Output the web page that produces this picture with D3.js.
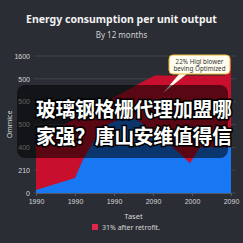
<!DOCTYPE html>
<html>
<head>
<meta charset="utf-8">
<script src="https://cdn.jsdelivr.net/npm/d3@7"></script>
<style>
  body { margin: 0; background: #2a2d34; }
  svg { display: block; font-family: "Noto Sans", sans-serif; }
</style>
</head>
<body>
<script>
var w = 243, h = 243;
var margin = {top: 56, right: 12, bottom: 50, left: 36};

// data
var xLabels = ["1990", "1990", "1990", "2090", "2000", "2090"];
var yLabels = ["0", "210", "400", "500", "500", "500", "1600"];
// x position in tick steps, value in tick steps
var redX   = [0, 2.65, 3.05, 4.85, 5];
var redY   = [2.3, 4.8, 5.15, 5.15, 6];
var blueX  = [0, 1, 1.2, 1.7, 2.4, 3.2, 3.95, 4.2, 5];
var blueY  = [0.13, 0.66, 1.45, 2.9, 3.4, 2.5, 1.3, 2.0, 2.0];
var legendText = "31% after retrofit.";
var calloutLines = ["22% Higl blower", "beving Optimized"];
var overlayLines = ["玻璃钢格栅代理加盟哪", "家强？唐山安维值得信"];

var svg = d3.select("body").append("svg")
  .attr("width", w)
  .attr("height", h);

var x = d3.scaleLinear().domain([0, 5]).range([margin.left, w - margin.right]);
var y = d3.scaleLinear().domain([0, 6]).range([h - margin.bottom, margin.top]);

svg.append("text")
  .attr("x", w / 2).attr("y", 23)
  .attr("text-anchor", "middle")
  .style("font-size", "10.5px").style("font-weight", "bold")
  .style("fill", "#f2f2f2")
  .text("Energy consumption per unit output");

svg.append("text")
  .attr("x", w / 2).attr("y", 38)
  .attr("text-anchor", "middle")
  .style("font-size", "8px")
  .style("fill", "#d0d0d0")
  .text("By 12 months");

// grid
svg.append("g").selectAll("line")
  .data(d3.range(0, 7))
  .enter().append("line")
  .attr("x1", margin.left - 2).attr("x2", w - 7)
  .attr("y1", function(d) { return y(d); })
  .attr("y2", function(d) { return y(d); })
  .style("stroke", "#454952").style("stroke-width", 0.8);

// areas
var redPts = redX.map(function(d, i) { return [d, redY[i]]; });
var bluePts = blueX.map(function(d, i) { return [d, blueY[i]]; });

var area = d3.area()
  .x(function(d) { return x(d[0]); })
  .y0(y(0))
  .y1(function(d) { return y(d[1]); });

svg.append("path").datum(redPts)
  .attr("d", area)
  .style("fill", "#c8102e");

svg.append("path").datum(bluePts)
  .attr("d", area)
  .style("fill", "#1877f2");

// axes
var yAxis = d3.axisLeft(y)
  .tickValues(d3.range(0, 7))
  .tickSize(0).tickPadding(5)
  .tickFormat(function(d) { return yLabels[d]; });

svg.append("g")
  .attr("transform", "translate(" + (margin.left - 1) + ",0)")
  .call(yAxis)
  .call(function(g) { g.select(".domain").remove(); })
  .selectAll("text")
  .style("fill", "#d8d8d8").style("font-size", "7px");

var xAxis = d3.axisBottom(x)
  .tickValues(d3.range(0, 6))
  .tickSize(3).tickPadding(3)
  .tickFormat(function(d) { return xLabels[d]; });

var gx = svg.append("g")
  .attr("transform", "translate(0," + y(0) + ")")
  .call(xAxis);
gx.select(".domain").style("stroke", "#555a63");
gx.selectAll("line").style("stroke", "#555a63");
gx.selectAll("text").style("fill", "#d8d8d8").style("font-size", "7px");

svg.append("text")
  .attr("x", x(2.5)).attr("y", 219)
  .attr("text-anchor", "middle")
  .style("font-size", "7.5px").style("fill", "#d8d8d8")
  .text("Taset");

svg.append("text")
  .attr("transform", "translate(12," + y(3) + ") rotate(-90)")
  .attr("text-anchor", "middle")
  .style("font-size", "7px").style("fill", "#d8d8d8")
  .text("Ommice");

// legend
var lg = svg.append("g").attr("transform", "translate(92,224)");
lg.append("rect").attr("width", 6).attr("height", 6).style("fill", "#e0284a");
lg.append("text").attr("x", 10).attr("y", 6)
  .style("font-size", "7px").style("fill", "#d8d8d8")
  .text(legendText);

// callout
var co = svg.append("g").attr("transform", "translate(169,55)");
co.append("path")
  .attr("d", "M11,18 L-6,38 L19,18 Z")
  .style("fill", "#fffdf0");
co.append("rect")
  .attr("width", 61).attr("height", 19).attr("rx", 4)
  .style("fill", "#fffdf0").style("stroke", "#e8b830").style("stroke-width", 1);
co.selectAll("text.c")
  .data(calloutLines)
  .enter().append("text")
  .attr("class", "c")
  .attr("x", 30.5).attr("y", function(d, i) { return 8.5 + i * 7.5; })
  .attr("text-anchor", "middle")
  .style("font-size", "6.3px").style("fill", "#333")
  .text(function(d) { return d; });

// overlay caption
svg.append("rect")
  .attr("x", 17).attr("y", 85).attr("width", 211).attr("height", 73).attr("rx", 8)
  .style("fill", "rgba(0,0,0,0.55)");

svg.selectAll("text.ov")
  .data(overlayLines)
  .enter().append("text")
  .attr("class", "ov")
  .attr("x", 36).attr("y", function(d, i) { return 117 + i * 27; })
  .attr("textLength", 196)
  .style("font-family", "'Noto Sans CJK SC', sans-serif")
  .style("font-size", "20px").style("font-weight", "bold")
  .style("fill", "#fff")
  .style("stroke", "#000").style("stroke-width", 3)
  .style("paint-order", "stroke")
  .text(function(d) { return d; });
</script>
</body>
</html>
